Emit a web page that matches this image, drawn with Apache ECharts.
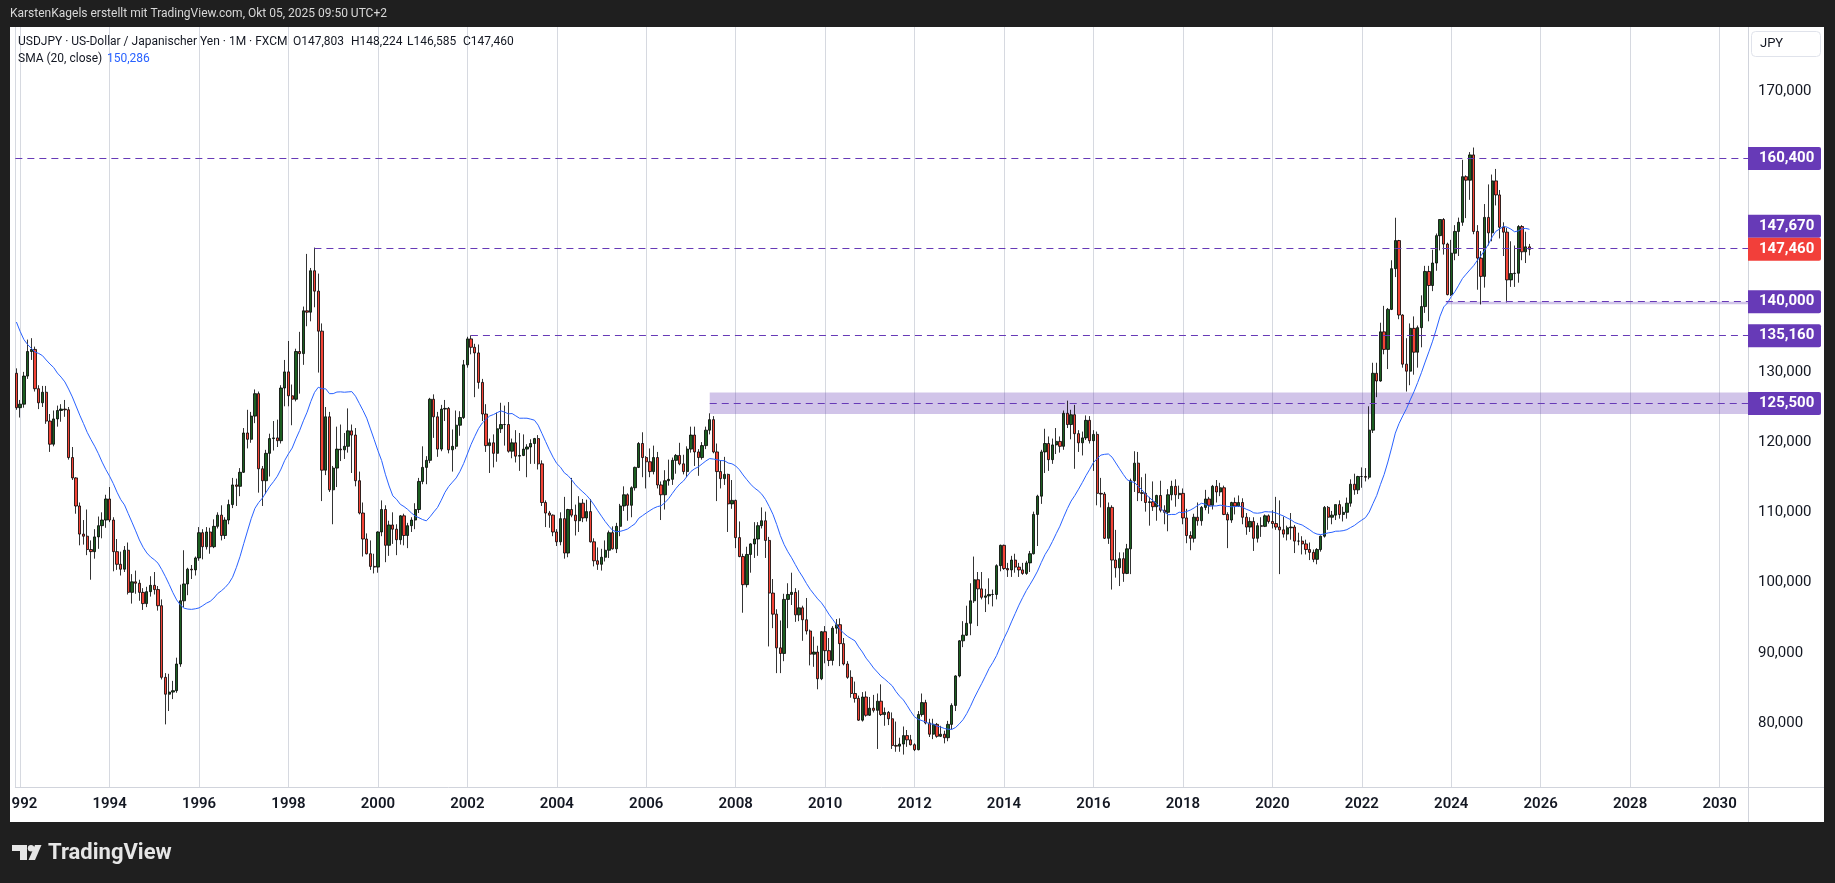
<!DOCTYPE html>
<html><head><meta charset="utf-8">
<script src="https://cdn.jsdelivr.net/npm/echarts@6/dist/echarts.min.js"></script>
<style>html,body{margin:0;padding:0;background:#1f1f1f;}#c{width:1835px;height:883px;}</style>
</head><body><div id="c"></div>
<script>
// ---- data (USDJPY monthly, FXCM) ----
// closes before the first visible bar (May 1990 .. Nov 1991), only used to warm up the SMA(20)
const smaWarmupCloses = [152.0,152.6,147.1,144.1,138.3,129.6,133.3,135.4,131.1,133.3,140.4,136.1,138.3,138.1,137.3,136.8,133.0,130.5,129.8];
// [month, open, high, low, close]
const candles = [
['1991-12',129.8,130.5,124.6,124.9],
['1992-01',124.9,126.0,123.5,125.4],['1992-02',125.4,130.0,124.9,129.4],['1992-03',129.4,134.6,129.0,132.9],['1992-04',132.9,134.8,131.7,133.2],
['1992-05',133.2,133.6,127.2,127.6],['1992-06',127.6,128.1,124.7,125.6],['1992-07',125.6,128.0,125.0,127.1],['1992-08',127.1,128.0,122.6,123.0],
['1992-09',123.0,124.0,118.6,119.7],['1992-10',119.7,124.5,119.4,123.3],['1992-11',123.3,125.2,122.2,124.5],['1992-12',124.5,125.4,122.9,124.7],
['1993-01',124.7,126.0,123.6,124.6],['1993-02',124.6,125.0,117.5,117.8],['1993-03',117.8,119.3,114.6,114.9],['1993-04',114.9,115.0,109.8,110.9],
['1993-05',110.9,111.4,105.3,106.9],['1993-06',106.9,108.9,105.4,106.6],['1993-07',106.6,110.4,103.9,104.7],['1993-08',104.7,106.0,100.4,104.4],
['1993-09',104.4,107.6,103.4,106.5],['1993-10',106.5,109.4,104.8,108.1],['1993-11',108.1,110.0,106.3,108.9],['1993-12',108.9,112.5,107.8,111.9],
['1994-01',111.9,113.6,108.6,108.9],['1994-02',108.9,109.3,101.6,104.4],['1994-03',104.4,106.2,101.8,102.6],['1994-04',102.6,104.4,101.0,101.9],
['1994-05',101.9,105.2,101.5,104.6],['1994-06',104.6,105.7,98.3,98.6],['1994-07',98.6,101.2,97.0,100.1],['1994-08',100.1,101.7,98.4,99.9],
['1994-09',99.9,100.4,97.4,98.6],['1994-10',98.6,99.2,96.1,97.0],['1994-11',97.0,99.4,96.5,98.7],['1994-12',98.7,100.9,98.0,99.6],
['1995-01',99.6,101.5,98.3,99.0],['1995-02',99.0,99.5,96.0,96.7],['1995-03',96.7,97.6,86.2,86.5],['1995-04',86.5,87.1,79.8,84.1],
['1995-05',84.1,87.0,81.7,84.4],['1995-06',84.4,86.0,83.4,84.6],['1995-07',84.6,89.3,84.3,88.4],['1995-08',88.4,99.7,88.0,97.4],
['1995-09',97.4,104.6,96.5,99.8],['1995-10',99.8,102.1,98.2,101.9],['1995-11',101.9,102.5,100.5,101.8],['1995-12',101.8,103.7,101.0,103.5],
['1996-01',103.5,107.9,103.1,107.1],['1996-02',107.1,107.6,103.3,105.1],['1996-03',105.1,107.9,104.7,107.2],['1996-04',107.2,107.8,104.1,105.1],
['1996-05',105.1,109.0,104.9,108.0],['1996-06',108.0,110.0,107.7,109.6],['1996-07',109.6,111.0,106.0,106.7],['1996-08',106.7,109.3,106.2,108.9],
['1996-09',108.9,111.8,108.3,111.1],['1996-10',111.1,114.9,110.6,113.9],['1996-11',113.9,114.8,110.9,113.7],['1996-12',113.7,116.3,112.3,115.7],
['1997-01',115.7,122.0,115.6,121.3],['1997-02',121.3,124.6,119.1,120.4],['1997-03',120.4,124.3,119.9,123.7],['1997-04',123.7,127.5,122.7,126.9],
['1997-05',126.9,127.2,112.8,116.2],['1997-06',116.2,116.6,110.9,114.5],['1997-07',114.5,118.9,112.6,118.4],['1997-08',118.4,121.2,115.1,120.5],
['1997-09',120.5,123.0,118.8,120.6],['1997-10',120.6,123.2,119.3,120.2],['1997-11',120.2,128.1,119.8,127.7],['1997-12',127.7,131.7,125.1,130.0],
['1998-01',130.0,134.4,125.1,126.6],['1998-02',126.6,128.2,122.4,126.1],['1998-03',126.1,133.3,125.8,132.9],['1998-04',132.9,135.7,126.9,132.6],
['1998-05',132.6,139.3,131.0,138.7],['1998-06',138.7,146.8,136.5,138.5],['1998-07',138.5,144.8,137.2,144.4],['1998-08',144.4,147.7,139.2,141.5],
['1998-09',141.5,144.0,129.9,135.8],['1998-10',135.8,136.9,111.6,116.0],['1998-11',116.0,125.0,115.3,123.6],['1998-12',123.6,124.3,112.9,113.2],
['1999-01',113.2,116.6,108.3,116.3],['1999-02',116.3,122.2,113.6,119.0],['1999-03',119.0,122.5,117.3,118.9],['1999-04',118.9,121.3,117.6,119.4],
['1999-05',119.4,124.8,118.5,121.6],['1999-06',121.6,122.5,115.6,121.0],['1999-07',121.0,122.0,113.7,114.5],['1999-08',114.5,115.8,109.7,109.9],
['1999-09',109.9,111.4,103.7,106.2],['1999-10',106.2,107.0,104.0,104.1],['1999-11',104.1,106.0,101.8,102.3],['1999-12',102.3,104.1,101.3,102.2],
['2000-01',102.2,107.3,101.4,107.2],['2000-02',107.2,111.7,106.6,110.4],['2000-03',110.4,111.0,102.9,105.3],['2000-04',105.3,108.8,103.8,108.2],
['2000-05',108.2,110.0,105.5,107.6],['2000-06',107.6,108.3,103.9,106.1],['2000-07',106.1,109.6,105.4,109.5],['2000-08',109.5,109.8,105.3,106.7],
['2000-09',106.7,108.5,104.9,108.1],['2000-10',108.1,109.3,107.2,108.9],['2000-11',108.9,111.3,107.6,110.4],['2000-12',110.4,114.9,109.9,114.4],
['2001-01',114.4,119.4,114.0,116.4],['2001-02',116.4,118.0,114.0,117.4],['2001-03',117.4,126.3,117.0,126.1],['2001-04',126.1,126.8,120.6,123.6],
['2001-05',123.6,124.3,117.9,119.0],['2001-06',119.0,125.3,118.7,124.7],['2001-07',124.7,126.0,123.0,124.8],['2001-08',124.8,125.0,118.4,118.9],
['2001-09',118.9,121.8,115.8,119.4],['2001-10',119.4,124.5,119.0,122.4],['2001-11',122.4,124.4,120.9,123.5],['2001-12',123.5,131.7,123.3,131.0],
['2002-01',131.0,135.0,130.6,134.7],['2002-02',134.7,135.2,132.5,133.5],['2002-03',133.5,134.0,126.4,132.7],['2002-04',132.7,133.9,127.6,128.5],
['2002-05',128.5,129.0,123.0,124.0],['2002-06',124.0,125.4,118.6,119.5],['2002-07',119.5,120.5,115.6,119.9],['2002-08',119.9,121.1,116.4,118.4],
['2002-09',118.4,124.2,117.2,121.9],['2002-10',121.9,125.6,121.3,122.5],['2002-11',122.5,125.2,119.5,122.5],['2002-12',122.5,125.7,118.5,118.7],
['2003-01',118.7,120.5,117.7,119.9],['2003-02',119.9,121.7,117.1,118.0],['2003-03',118.0,121.3,115.9,118.1],['2003-04',118.1,121.1,118.0,119.0],
['2003-05',119.0,119.7,115.0,119.3],['2003-06',119.3,120.4,116.9,119.8],['2003-07',119.8,120.6,116.9,120.5],['2003-08',120.5,121.0,116.1,116.9],
['2003-09',116.9,117.4,110.9,111.4],['2003-10',111.4,111.7,107.9,109.9],['2003-11',109.9,110.2,107.8,109.6],['2003-12',109.6,109.7,106.6,107.2],
['2004-01',107.2,107.6,105.2,105.8],['2004-02',105.8,110.0,105.3,109.1],['2004-03',109.1,112.2,103.4,104.2],['2004-04',104.2,110.5,103.6,110.4],
['2004-05',110.4,114.9,109.3,109.6],['2004-06',109.6,111.1,106.7,108.8],['2004-07',108.8,112.3,107.2,111.3],['2004-08',111.3,111.9,108.6,109.2],
['2004-09',109.2,111.8,108.7,110.1],['2004-10',110.1,111.9,105.7,105.8],['2004-11',105.8,106.3,102.3,103.1],['2004-12',103.1,105.0,101.8,102.6],
['2005-01',102.6,104.8,101.7,103.6],['2005-02',103.6,106.0,103.0,104.6],['2005-03',104.6,107.4,103.5,107.1],['2005-04',107.1,108.0,104.7,104.8],
['2005-05',104.8,108.5,104.2,108.0],['2005-06',108.0,111.2,106.6,110.9],['2005-07',110.9,113.7,110.2,112.5],['2005-08',112.5,112.7,108.8,111.0],
['2005-09',111.0,113.7,109.3,113.5],['2005-10',113.5,116.5,113.1,116.4],['2005-11',116.4,120.0,116.3,119.8],['2005-12',119.8,121.4,115.0,117.8],
['2006-01',117.8,118.0,113.4,117.2],['2006-02',117.2,119.1,115.0,115.8],['2006-03',115.8,119.5,115.4,117.8],['2006-04',117.8,118.6,113.4,113.9],
['2006-05',113.9,114.4,108.9,112.5],['2006-06',112.5,116.0,110.4,114.5],['2006-07',114.5,117.5,113.8,114.7],['2006-08',114.7,117.8,113.9,117.4],
['2006-09',117.4,118.3,115.5,118.1],['2006-10',118.1,119.9,116.7,116.9],['2006-11',116.9,118.2,115.4,115.8],['2006-12',115.8,119.4,115.0,119.0],
['2007-01',119.0,122.2,118.5,121.0],['2007-02',121.0,122.2,116.6,118.6],['2007-03',118.6,119.0,115.2,117.8],['2007-04',117.8,120.0,117.5,119.5],
['2007-05',119.5,122.2,119.0,121.7],['2007-06',121.7,124.1,121.1,123.2],['2007-07',123.2,123.7,118.4,118.6],['2007-08',118.6,119.8,111.6,115.8],
['2007-09',115.8,117.4,113.4,114.8],['2007-10',114.8,117.9,113.9,115.4],['2007-11',115.4,115.5,107.2,111.2],['2007-12',111.2,114.6,110.5,111.7],
['2008-01',111.7,111.8,104.9,106.4],['2008-02',106.4,108.7,103.6,103.7],['2008-03',103.7,104.1,95.7,99.7],['2008-04',99.7,105.1,99.3,104.0],
['2008-05',104.0,105.6,101.4,105.5],['2008-06',105.5,108.6,103.5,106.2],['2008-07',106.2,108.6,103.8,108.1],['2008-08',108.1,110.7,107.7,108.8],
['2008-09',108.8,110.1,103.5,106.0],['2008-10',106.0,106.5,90.9,98.5],['2008-11',98.5,100.5,93.5,95.5],['2008-12',95.5,96.2,87.1,90.7],
['2009-01',90.7,94.6,87.1,89.9],['2009-02',89.9,98.4,88.8,97.6],['2009-03',97.6,99.9,93.5,98.3],['2009-04',98.3,101.4,96.8,98.6],
['2009-05',98.6,99.2,94.4,95.4],['2009-06',95.4,98.9,94.5,96.4],['2009-07',96.4,96.7,91.7,94.7],['2009-08',94.7,97.8,92.6,93.1],
['2009-09',93.1,93.3,88.2,89.8],['2009-10',89.8,92.3,88.0,90.1],['2009-11',90.1,91.0,84.8,86.3],['2009-12',86.3,93.1,86.1,93.0],
['2010-01',93.0,93.8,88.5,90.3],['2010-02',90.3,92.1,88.1,88.9],['2010-03',88.9,93.8,88.2,93.5],['2010-04',93.5,94.8,92.7,94.0],
['2010-05',94.0,94.9,88.1,91.3],['2010-06',91.3,92.1,88.2,88.4],['2010-07',88.4,88.8,86.3,86.5],['2010-08',86.5,87.5,83.6,84.2],
['2010-09',84.2,85.9,82.9,83.5],['2010-10',83.5,83.9,80.3,80.4],['2010-11',80.4,84.4,80.2,83.7],['2010-12',83.7,84.5,80.9,81.1],
['2011-01',81.1,83.7,81.0,82.1],['2011-02',82.1,84.0,81.5,81.8],['2011-03',81.8,84.2,76.3,83.1],['2011-04',83.1,85.5,81.0,81.2],
['2011-05',81.2,82.2,79.6,81.5],['2011-06',81.5,81.7,79.7,80.6],['2011-07',80.6,81.5,76.3,76.8],['2011-08',76.8,80.2,75.9,76.7],
['2011-09',76.7,77.9,75.9,77.0],['2011-10',77.0,79.5,75.5,78.2],['2011-11',78.2,79.0,76.6,77.6],['2011-12',77.6,78.3,76.8,76.9],
['2012-01',76.9,77.1,76.0,76.2],['2012-02',76.2,81.7,76.1,81.2],['2012-03',81.2,84.2,80.9,82.9],['2012-04',82.9,83.3,79.8,80.0],
['2012-05',80.0,80.6,78.0,78.4],['2012-06',78.4,80.6,77.7,79.8],['2012-07',79.8,80.0,77.9,78.1],['2012-08',78.1,79.6,78.0,78.4],
['2012-09',78.4,78.9,77.1,77.9],['2012-10',77.9,80.3,77.4,79.8],['2012-11',79.8,82.8,79.1,82.5],['2012-12',82.5,86.8,81.7,86.7],
['2013-01',86.7,91.8,86.5,91.7],['2013-02',91.7,94.5,90.8,92.5],['2013-03',92.5,96.7,92.4,94.2],['2013-04',94.2,99.9,92.5,97.4],
['2013-05',97.4,103.7,97.1,100.4],['2013-06',100.4,101.5,93.8,99.1],['2013-07',99.1,101.5,97.6,97.9],['2013-08',97.9,99.1,95.8,98.1],
['2013-09',98.1,100.6,96.9,98.3],['2013-10',98.3,99.0,96.6,98.3],['2013-11',98.3,102.6,97.6,102.4],['2013-12',102.4,105.4,101.6,105.3],
['2014-01',105.3,105.4,101.8,102.0],['2014-02',102.0,102.8,100.8,101.8],['2014-03',101.8,103.8,100.8,103.2],['2014-04',103.2,104.1,101.4,102.2],
['2014-05',102.2,102.8,100.8,101.8],['2014-06',101.8,102.8,101.1,101.3],['2014-07',101.3,103.1,101.1,102.8],['2014-08',102.8,104.5,101.5,104.1],
['2014-09',104.1,110.1,104.0,109.7],['2014-10',109.7,112.5,105.2,112.3],['2014-11',112.3,118.9,111.2,118.6],['2014-12',118.6,121.9,115.6,119.8],
['2015-01',119.8,120.8,115.9,117.5],['2015-02',117.5,120.5,116.9,119.6],['2015-03',119.6,122.0,118.3,120.1],['2015-04',120.1,120.8,118.5,119.4],
['2015-05',119.4,124.5,118.9,124.1],['2015-06',124.1,125.9,122.0,122.5],['2015-07',122.5,124.6,120.4,123.9],['2015-08',123.9,125.3,116.2,121.2],
['2015-09',121.2,121.7,118.6,119.9],['2015-10',119.9,121.5,118.1,120.6],['2015-11',120.6,123.8,120.3,123.1],['2015-12',123.1,123.7,119.8,120.2],
['2016-01',120.2,121.7,115.9,121.1],['2016-02',121.1,121.5,111.0,112.7],['2016-03',112.7,114.9,110.7,112.6],['2016-04',112.6,112.9,106.2,106.3],
['2016-05',106.3,111.4,105.5,110.7],['2016-06',110.7,111.0,99.0,103.2],['2016-07',103.2,107.5,100.7,102.1],['2016-08',102.1,104.3,99.5,103.4],
['2016-09',103.4,104.3,100.1,101.3],['2016-10',101.3,105.5,101.2,104.8],['2016-11',104.8,114.8,101.2,114.5],['2016-12',114.5,118.7,112.9,117.0],
['2017-01',117.0,118.6,111.6,112.8],['2017-02',112.8,115.0,111.6,112.7],['2017-03',112.7,115.5,110.1,111.4],['2017-04',111.4,112.2,108.1,111.5],
['2017-05',111.5,114.4,110.2,110.8],['2017-06',110.8,112.5,108.8,112.4],['2017-07',112.4,114.5,110.0,110.3],['2017-08',110.3,111.0,108.3,110.0],
['2017-09',110.0,113.3,107.3,112.5],['2017-10',112.5,114.5,111.7,113.7],['2017-11',113.7,114.7,110.8,112.5],['2017-12',112.5,113.8,111.9,112.7],
['2018-01',112.7,113.4,108.3,109.2],['2018-02',109.2,110.5,105.6,106.7],['2018-03',106.7,107.3,104.6,106.3],['2018-04',106.3,109.8,105.7,109.3],
['2018-05',109.3,111.4,108.1,108.8],['2018-06',108.8,110.9,108.1,110.7],['2018-07',110.7,113.2,110.3,111.9],['2018-08',111.9,112.2,109.8,111.0],
['2018-09',111.0,113.9,110.4,113.7],['2018-10',113.7,114.6,111.4,112.9],['2018-11',112.9,114.2,112.3,113.5],['2018-12',113.5,113.8,109.6,109.7],
['2019-01',109.7,110.0,104.9,108.9],['2019-02',108.9,111.5,108.5,111.4],['2019-03',111.4,112.1,109.7,110.9],['2019-04',110.9,112.4,110.8,111.4],
['2019-05',111.4,112.0,108.3,109.3],['2019-06',109.3,109.9,106.8,107.9],['2019-07',107.9,109.3,107.2,108.7],['2019-08',108.7,109.3,104.5,106.3],
['2019-09',106.3,108.5,105.7,108.1],['2019-10',108.1,109.3,106.5,108.0],['2019-11',108.0,109.7,107.9,109.5],['2019-12',109.5,109.7,108.4,108.7],
['2020-01',108.7,110.3,107.7,108.4],['2020-02',108.4,112.2,107.5,107.9],['2020-03',107.9,111.7,101.2,107.5],['2020-04',107.5,109.4,106.4,106.9],
['2020-05',106.9,108.1,106.0,107.8],['2020-06',107.8,109.9,106.1,107.9],['2020-07',107.9,108.2,104.2,105.9],['2020-08',105.9,107.1,105.3,105.9],
['2020-09',105.9,106.6,104.0,105.5],['2020-10',105.5,106.1,104.0,104.7],['2020-11',104.7,105.7,103.2,104.3],['2020-12',104.3,104.7,102.9,103.3],
['2021-01',103.3,104.9,102.6,104.7],['2021-02',104.7,106.7,104.4,106.6],['2021-03',106.6,110.9,106.4,110.7],['2021-04',110.7,110.9,107.5,109.3],
['2021-05',109.3,110.2,108.3,109.6],['2021-06',109.6,111.1,108.9,111.1],['2021-07',111.1,111.7,109.1,109.7],['2021-08',109.7,110.8,108.7,110.0],
['2021-09',110.0,112.1,109.1,111.3],['2021-10',111.3,114.7,110.8,114.0],['2021-11',114.0,115.5,112.5,113.2],['2021-12',113.2,115.2,112.6,115.1],
['2022-01',115.1,116.4,113.5,115.1],['2022-02',115.1,116.3,114.4,115.0],['2022-03',115.0,125.1,114.7,121.7],['2022-04',121.7,131.3,121.3,129.8],
['2022-05',129.8,131.3,126.4,128.7],['2022-06',128.7,137.0,128.6,135.7],['2022-07',135.7,139.4,132.5,133.2],['2022-08',133.2,139.1,130.4,138.9],
['2022-09',138.9,145.9,138.8,144.7],['2022-10',144.7,151.95,143.5,148.7],['2022-11',148.7,148.8,137.5,138.1],['2022-12',138.1,138.2,130.6,131.1],
['2023-01',131.1,134.8,127.2,130.1],['2023-02',130.1,136.9,128.1,136.2],['2023-03',136.2,137.9,129.6,132.8],['2023-04',132.8,136.6,130.6,136.3],
['2023-05',136.3,140.9,133.5,139.3],['2023-06',139.3,145.1,138.4,144.3],['2023-07',144.3,145.1,137.2,142.3],['2023-08',142.3,147.4,141.5,145.5],
['2023-09',145.5,149.7,144.4,149.4],['2023-10',149.4,151.7,147.3,151.7],['2023-11',151.7,151.9,146.7,148.2],['2023-12',148.2,148.4,140.9,141.0],
['2024-01',141.0,148.8,140.8,146.9],['2024-02',146.9,150.9,145.9,150.0],['2024-03',150.0,151.97,146.5,151.3],['2024-04',151.3,160.2,150.8,157.8],
['2024-05',157.8,157.99,151.9,157.3],['2024-06',157.3,161.3,154.5,160.9],['2024-07',160.9,161.95,149.6,150.0],['2024-08',150.0,150.9,141.7,146.2],
['2024-09',146.2,147.2,139.6,143.6],['2024-10',143.6,153.9,142.0,152.0],['2024-11',152.0,156.7,148.0,149.8],['2024-12',149.8,158.1,148.6,157.2],
['2025-01',157.2,158.9,153.7,155.2],['2025-02',155.2,155.9,149.0,150.6],['2025-03',150.6,151.3,146.5,149.9],['2025-04',149.9,150.5,139.9,143.1],
['2025-05',143.1,148.6,142.1,144.0],['2025-06',144.0,148.0,142.1,144.05],['2025-07',144.05,150.9,142.7,150.7],['2025-08',150.7,150.9,145.9,147.1],
['2025-09',147.1,149.96,145.5,147.803],['2025-10',147.803,148.224,146.585,147.460]
];
// axis ticks
const priceTicks = [80,90,100,110,120,130,140,150,160,170];
const yearTicks = [1992,1994,1996,1998,2000,2002,2004,2006,2008,2010,2012,2014,2016,2018,2020,2022,2024,2026,2028,2030];
// horizontal levels drawn on the chart (value, start as decimal year; null = from left edge)
const levelValues = [160.4, 147.67, 140.0, 135.16, 125.5];
const levelStarts = [null, 1998.58, 2023.88, 2002.08, 2007.42];
// shaded zones [start year, low, high]
const zoneRanges = [[2007.42, 124.0, 127.05], [2023.88, 139.62, 140.0]];
const legendSmaText = '150,286';
const headerText = 'KarstenKagels erstellt mit TradingView.com, Okt 05, 2025 09:50 UTC+2';
const titleText = 'USDJPY · US-Dollar / Japanischer Yen · 1M · FXCM';

// ---- build ----
const X_MIN = 1991.893, X_MAX = 2030.636, Y_MIN = 70.883, Y_MAX = 179.114;
const FONT = 'Roboto, "Noto Sans", Arial, sans-serif';
const toYear = s => { const p = s.split('-'); return +p[0] + (+p[1]-1)/12; };
const fmt = v => v.toFixed(3).replace('.', ',');
const allCloses = smaWarmupCloses.concat(candles.map(c => c[4]));
const candleData = candles.map(c => [toYear(c[0]), c[1], c[4], c[3], c[2]]);
const smaData = candles.map((c, i) => {
  const k = i + smaWarmupCloses.length;
  let s = 0; for (let j = k - 19; j <= k; j++) s += allCloses[j];
  return [toYear(c[0]), s / 20];
});
const near = (v, arr) => arr.some(t => Math.abs(t - v) < 1e-6);

const chart = echarts.init(document.getElementById('c'), null, {width:1835, height:883});
const option = {
  animation: false,
  backgroundColor: '#ffffff',
  grid: {left: 10, right: 87, top: 27, bottom: 96},
  xAxis: {
    type: 'value', min: X_MIN, max: X_MAX, splitNumber: 19,
    axisLine: {show: true, lineStyle: {color: '#d1d4dc', width: 1}},
    axisTick: {show: false},
    splitLine: {show: true, lineStyle: {color: '#d6d9e0', width: 1}},
    axisLabel: {
      showMinLabel: false, showMaxLabel: false, margin: 10,
      color: '#131722', fontSize: 15, fontWeight: 600, fontFamily: FONT,
      formatter: v => near(v, yearTicks) ? String(Math.round(v)) : ''
    }
  },
  yAxis: {
    type: 'value', position: 'right', min: Y_MIN, max: Y_MAX, splitNumber: 11, scale: true,
    axisLine: {show: true, lineStyle: {color: '#d1d4dc', width: 1}},
    axisTick: {show: false},
    splitLine: {show: false},
    axisLabel: {
      showMinLabel: false, showMaxLabel: false, margin: 10,
      color: '#131722', fontSize: 15, fontFamily: FONT,
      formatter: v => near(v, priceTicks) ? fmt(v) : ''
    }
  },
  series: [
    {
      type: 'candlestick', name: 'USDJPY', data: candleData,
      encode: {x: 0, y: [1, 2, 3, 4]},
      barWidth: 2.8, clip: true, silent: true,
      itemStyle: {color: '#1b5e20', color0: '#f44336', borderColor: '#000000', borderColor0: '#000000', borderWidth: 0.8},
      markArea: {
        silent: true,
        itemStyle: {color: 'rgba(103,58,183,0.3)'},
        data: zoneRanges.map(z => [{coord: [z[0], z[2]]}, {coord: [X_MAX, z[1]]}])
      },
      markLine: {
        silent: true, symbol: ['none', 'none'], label: {show: false},
        lineStyle: {color: '#673ab7', type: [7, 5], width: 1},
        data: levelValues.map((v, i) => [{coord: [levelStarts[i] == null ? X_MIN : levelStarts[i], v]}, {coord: [X_MAX, v]}])
      }
    },
    {
      type: 'line', name: 'SMA (20, close)', data: smaData, showSymbol: false, silent: true,
      lineStyle: {color: '#2962ff', width: 1}, z: 4
    }
  ]
};
chart.setOption(option);

// ---- overlays (positions through the chart's own scale) ----
const py = v => chart.convertToPixel({yAxisIndex: 0}, v);
const last = candles[candles.length - 1];
const frame = '#1f1f1f';
const g = [];
// plot frame continuation
g.push({type:'line', shape:{x1:1748.5,y1:787,x2:1748.5,y2:822}, style:{stroke:'#d1d4dc', lineWidth:1}, zlevel:1, z:1});
g.push({type:'line', shape:{x1:1748,y1:787.5,x2:1824,y2:787.5}, style:{stroke:'#d1d4dc', lineWidth:1}, zlevel:1, z:1});
// price boxes
const boxW = 73, boxH = 23, boxX = 1748;
const curY = py(last[4]);
function box(yc, text, color) {
  g.push({type:'rect', shape:{x:boxX, y:yc - boxH/2, width:boxW, height:boxH, r:[0,2,2,0]}, style:{fill:color}, zlevel:1, z:5});
  g.push({type:'text', x:1759, y:yc, style:{text:text, fill:'#ffffff', font:'bold 15px ' + FONT, textVerticalAlign:'middle', verticalAlign:'middle'}, zlevel:1, z:6});
}
box(py(levelValues[0]), fmt(levelValues[0]), '#673ab7');
box(curY - boxH, fmt(levelValues[1]), '#673ab7');
box(py(levelValues[2]), fmt(levelValues[2]), '#673ab7');
box(py(levelValues[3]), fmt(levelValues[3]), '#673ab7');
box(py(levelValues[4]), fmt(levelValues[4]), '#673ab7');
box(curY, fmt(last[4]), '#f23f3a');
// JPY unit box
g.push({type:'rect', shape:{x:1751.5, y:31.5, width:69, height:25, r:4}, style:{fill:'#ffffff', stroke:'#e0e3eb', lineWidth:1}, zlevel:1, z:5});
g.push({type:'text', x:1760, y:44, style:{text:'JPY', fill:'#131722', font:'13px ' + FONT, textVerticalAlign:'middle', verticalAlign:'middle'}, zlevel:1, z:6});
// dark frame
g.push({type:'rect', shape:{x:0,y:0,width:1835,height:27}, style:{fill:frame}, zlevel:1, z:10});
g.push({type:'rect', shape:{x:0,y:0,width:10,height:883}, style:{fill:frame}, zlevel:1, z:10});
g.push({type:'rect', shape:{x:1824,y:0,width:11,height:883}, style:{fill:frame}, zlevel:1, z:10});
g.push({type:'rect', shape:{x:0,y:822,width:1835,height:61}, style:{fill:frame}, zlevel:1, z:10});
// header texts
const T = (x, y, text, fill, font) => g.push({type:'text', x:x, y:y, style:{text:text, fill:fill, font:font, textVerticalAlign:'middle', verticalAlign:'middle'}, zlevel:1, z:12});
const F12 = '12px ' + FONT;
T(10, 14, headerText, '#d8d8d8', F12);
T(18, 42, titleText, '#131722', F12);
T(293, 42, 'O' + fmt(last[1]), '#131722', F12);
T(351, 42, 'H' + fmt(last[2]), '#131722', F12);
T(407, 42, 'L' + fmt(last[3]), '#131722', F12);
T(463, 42, 'C' + fmt(last[4]), '#131722', F12);
T(18, 59, 'SMA (20, close)', '#131722', F12);
T(107, 59, legendSmaText, '#2962ff', F12);
// TradingView logo
g.push({type:'polygon', shape:{points:[[12,845],[27,845],[27,860],[20,860],[20,851],[12,851]]}, style:{fill:'#e6e6e6'}, zlevel:1, z:12});
g.push({type:'circle', shape:{cx:31, cy:848.2, r:3.2}, style:{fill:'#e6e6e6'}, zlevel:1, z:12});
g.push({type:'polygon', shape:{points:[[35,845],[41.5,845],[35,860],[28.5,860]]}, style:{fill:'#e6e6e6'}, zlevel:1, z:12});
T(48, 853, 'TradingView', '#e6e6e6', 'bold 22px ' + FONT);
chart.setOption({graphic: {elements: g}});
</script></body></html>
